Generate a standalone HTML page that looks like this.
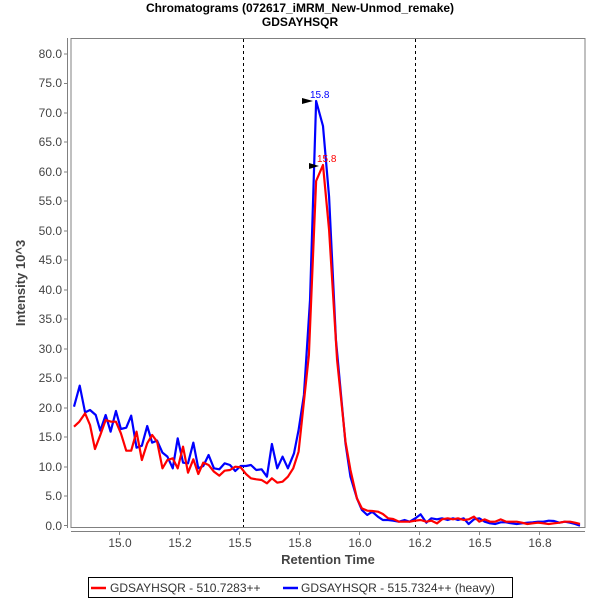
<!DOCTYPE html><html><head><style>body{margin:0;background:#fff}</style></head><body>
<svg width="600" height="600" xmlns="http://www.w3.org/2000/svg" font-family="Liberation Sans, DejaVu Sans, sans-serif">
<rect width="600" height="600" fill="#fff"/>
<text x="300" y="12" font-size="12" font-weight="bold" text-anchor="middle">Chromatograms (072617_iMRM_New-Unmod_remake)</text>
<text x="300" y="26" font-size="12" font-weight="bold" text-anchor="middle">GDSAYHSQR</text>
<rect x="71" y="38.5" width="514" height="489" fill="#fff" stroke="#808080" stroke-width="1"/>
<line x1="67.5" y1="38" x2="67.5" y2="528" stroke="#808080"/>
<line x1="71" y1="531.5" x2="585" y2="531.5" stroke="#808080"/>
<g font-size="12" fill="#444" text-anchor="end">
<text x="62" y="58">80.0</text><text x="62" y="87">75.0</text><text x="62" y="117">70.0</text><text x="62" y="146">65.0</text><text x="62" y="176">60.0</text><text x="62" y="205">55.0</text><text x="62" y="235">50.0</text><text x="62" y="264">45.0</text><text x="62" y="294">40.0</text><text x="62" y="323">35.0</text><text x="62" y="353">30.0</text><text x="62" y="382">25.0</text><text x="62" y="412">20.0</text><text x="62" y="441">15.0</text><text x="62" y="471">10.0</text><text x="62" y="500">5.0</text><text x="62" y="530">0.0</text>
</g>
<g stroke="#808080">
<line x1="64" x2="67" y1="54" y2="54"/><line x1="64" x2="67" y1="83.5" y2="83.5"/><line x1="64" x2="67" y1="113" y2="113"/><line x1="64" x2="67" y1="142" y2="142"/><line x1="64" x2="67" y1="172" y2="172"/><line x1="64" x2="67" y1="201" y2="201"/><line x1="64" x2="67" y1="231" y2="231"/><line x1="64" x2="67" y1="260" y2="260"/><line x1="64" x2="67" y1="290" y2="290"/><line x1="64" x2="67" y1="319" y2="319"/><line x1="64" x2="67" y1="349" y2="349"/><line x1="64" x2="67" y1="378" y2="378"/><line x1="64" x2="67" y1="408" y2="408"/><line x1="64" x2="67" y1="437" y2="437"/><line x1="64" x2="67" y1="467" y2="467"/><line x1="64" x2="67" y1="496" y2="496"/><line x1="64" x2="67" y1="525.5" y2="525.5"/>
<line y1="532" y2="535" x1="119.5" x2="119.5"/><line y1="532" y2="535" x1="179.5" x2="179.5"/><line y1="532" y2="535" x1="239.5" x2="239.5"/><line y1="532" y2="535" x1="299.5" x2="299.5"/><line y1="532" y2="535" x1="359.5" x2="359.5"/><line y1="532" y2="535" x1="419.5" x2="419.5"/><line y1="532" y2="535" x1="479.5" x2="479.5"/><line y1="532" y2="535" x1="539.5" x2="539.5"/>
</g>
<g font-size="12" fill="#444" text-anchor="middle">
<text x="120" y="547">15.0</text><text x="180" y="547">15.2</text><text x="240" y="547">15.5</text><text x="300" y="547">15.8</text><text x="360" y="547">16.0</text><text x="420" y="547">16.2</text><text x="480" y="547">16.5</text><text x="540" y="547">16.8</text>
</g>
<text x="328" y="564" font-size="13" font-weight="bold" fill="#444" text-anchor="middle">Retention Time</text>
<text transform="translate(25,283) rotate(-90)" font-size="13" font-weight="bold" fill="#444" text-anchor="middle">Intensity 10^3</text>
<line x1="243.5" y1="39" x2="243.5" y2="527" stroke="#000" stroke-dasharray="3,3"/>
<line x1="415.5" y1="39" x2="415.5" y2="527" stroke="#000" stroke-dasharray="3,3"/>
<g transform="translate(0.41,380) scale(0.3813,0.33333)" fill="none" stroke-width="2.2" stroke-linejoin="round">
<polyline vector-effect="non-scaling-stroke" stroke="#0000ff" points="193,80 208,17 222,97 235,90 250,105 262,152 276,105 289,155 303,93 316,147 330,143 343,107 357,203 371,197 385,138 398,188 411,182 425,218 438,230 452,265 465,175 479,248 492,250 506,188 519,265 532,258 546,225 560,265 574,268 588,250 602,255 616,273 630,258 644,258 657,255 671,270 685,268 699,290 712,192 726,265 740,230 754,265 770,220 782,150 796,45 812,-240 828,-837 846,-762 862,-549 880,-120 905,190 918,290 935,355 948,390 962,405 975,395 990,410 1003,420 1017,420 1030,422 1045,425 1060,420 1073,425 1088,415 1102,403 1117,428 1130,415 1145,418 1158,415 1173,420 1187,415 1200,420 1215,415 1228,432 1242,418 1256,415 1270,425 1284,430 1298,432 1312,427 1326,427 1340,430 1354,432 1368,430 1382,428 1396,427 1410,425 1424,425 1438,422 1452,423 1466,428 1480,425 1494,428 1507,432 1520,437"/>
<polyline vector-effect="non-scaling-stroke" stroke="#ff0000" points="193,140 207,125 222,100 235,135 248,207 262,165 276,120 290,125 303,125 316,160 330,212 343,212 357,155 371,240 385,190 398,165 411,185 425,265 438,240 452,235 465,265 479,200 492,278 506,238 519,282 532,248 546,255 560,275 574,287 588,272 602,270 616,260 630,262 644,282 657,295 671,298 685,300 699,310 712,295 726,308 740,305 754,290 768,265 782,215 809,-75 828,-597 846,-645 862,-450 883,-60 905,185 918,270 935,355 948,385 962,392 975,393 990,395 1003,402 1017,415 1030,417 1045,425 1060,425 1073,425 1088,422 1102,420 1117,425 1130,422 1145,430 1158,418 1173,415 1187,418 1200,415 1215,420 1228,418 1242,410 1256,425 1270,418 1284,425 1298,425 1312,418 1326,425 1340,425 1354,425 1368,428 1382,432 1396,430 1410,428 1424,430 1438,432 1452,430 1466,428 1480,425 1494,425 1507,428 1520,432"/>
</g>
<polygon points="302,98 313,101 302,104" fill="#000"/>
<polygon points="309,163 319,166 309,169" fill="#000"/>
<text x="310" y="98" font-size="10" fill="#0000ff">15.8</text>
<text x="317" y="162" font-size="10" fill="#ff0000">15.8</text>
<rect x="88.5" y="577.5" width="424" height="20" fill="#fff" stroke="#000"/>
<line x1="91" y1="588" x2="106" y2="588" stroke="#ff0000" stroke-width="2.5"/>
<text x="110" y="592" font-size="12" fill="#333">GDSAYHSQR - 510.7283++</text>
<line x1="283" y1="588" x2="298" y2="588" stroke="#0000ff" stroke-width="2.5"/>
<text x="301" y="592" font-size="12" fill="#333">GDSAYHSQR - 515.7324++ (heavy)</text>
</svg>
</body></html>
